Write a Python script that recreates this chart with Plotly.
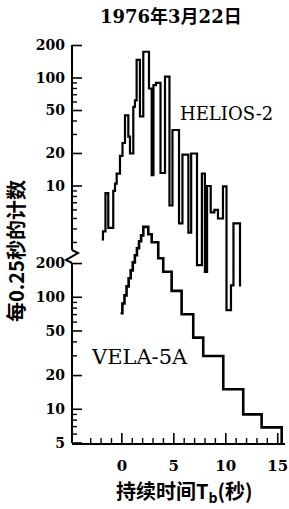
import math
import plotly.graph_objects as go

# ---------------- data ----------------
title_text = "1976年3月22日"
x_title = "持续时间T<sub>b</sub>(秒)"
y_title = "每0.25秒的计数"
helios_label = "HELIOS-2"
vela_label = "VELA-5A"

# HELIOS-2 counts per 0.25 s (left bin edges in s, counts)
helios_t = [-1.94, -1.82, -1.58, -1.31, -0.83, -0.66, -0.50, -0.18, 0.06, 0.30,
            0.62, 0.78, 1.10, 1.26, 1.42, 1.74, 2.06, 2.61, 2.87, 3.04,
            3.28, 3.72, 4.15, 4.58, 4.87, 5.50, 5.83, 6.40, 6.67, 7.23,
            7.70, 7.99, 8.20, 8.55, 8.90, 9.25, 9.73, 10.07, 10.50, 10.74,
            11.37]
helios_counts = [3.2, 3.8, 8.6, 4.1, 9.0, 10.5, 13, 19, 25, 45,
                 28.6, 20, 54, 62, 147, 44, 175, 80, 12.6, 86,
                 90, 13.2, 103, 6.6, 33, 4.5, 19.5, 3.7, 20, 1.85,
                 13, 1.6, 10, 5.7, 6, 5, 9.9, 0.71, 1.2, 4.5,
                 1.17]

# VELA-5A counts (left bin edges in s, counts)
vela_t = [-0.12, 0.05, 0.25, 0.45, 0.65, 0.85, 1.05, 1.25, 1.45, 1.65,
          1.85, 2.06, 2.54, 2.87, 3.50, 3.98, 4.79, 5.75, 6.87, 7.83,
          9.76, 11.68, 13.45, 15.38]
vela_counts = [72, 88, 104, 125, 148, 174, 205, 237, 274, 316,
               357, 425, 365, 310, 223, 169, 114, 70.5, 43.6, 29.9,
               15.1, 9.0, 6.9, 5]

x_tick_vals = [0, 5, 10, 15]
x_tick_text = ["0", "5", "10", "15"]
x_minor_vals = [v for v in range(-3, 15) if v % 5 != 0]
upper_tick_vals = [10, 20, 50, 100, 200]
upper_tick_text = ["10", "20", "50", "100", "200"]
upper_minor_vals = [3, 4, 5, 6, 7, 8, 9, 30, 40, 60, 70, 80, 90]
lower_tick_vals = [5, 10, 20, 50, 100, 200]
lower_tick_text = ["5", "10", "20", "50", "100", "200"]
lower_minor_vals = [6, 7, 8, 9, 30, 40, 60, 70, 80, 90]

# ---------------- layout geometry ----------------
W, H = 289, 509
L, R, T, B = 72, 4, 40, 66
PW, PH = W - L - R, H - T - B


def px(xs):
    """screen x pixel -> paper x"""
    return (xs - L) / PW


def py(ys):
    """screen y pixel -> paper y"""
    return (H - B - ys) / PH


serif = "DejaVu Serif, Liberation Serif, serif"
cjk = "DejaVu Serif, Noto Sans CJK SC, sans-serif"
cjk_sans = "Noto Sans CJK SC, sans-serif"

fig = go.Figure()
fig.add_trace(go.Scatter(x=helios_t, y=helios_counts, mode="lines", yaxis="y2",
                         line=dict(color="black", width=2.2, shape="hv"),
                         showlegend=False, hoverinfo="skip"))
fig.add_trace(go.Scatter(x=vela_t, y=vela_counts, mode="lines", yaxis="y",
                         line=dict(color="black", width=2.6, shape="hv"),
                         showlegend=False, hoverinfo="skip"))

tickfont = dict(family=serif, size=14, color="black", weight="bold")

fig.update_layout(
    width=W, height=H,
    margin=dict(l=L, r=R, t=T, b=B, autoexpand=False),
    paper_bgcolor="white", plot_bgcolor="white",
    xaxis=dict(range=[-4.8, 15.7], showline=True, linecolor="black", linewidth=2,
               ticks="", tickmode="array", tickvals=x_tick_vals, ticktext=x_tick_text,
               showgrid=False, zeroline=False, automargin=False, ticklabelstandoff=8,
               tickfont=dict(family=serif, size=15, color="black", weight="bold")),
    yaxis=dict(type="log", range=[math.log10(5), 4.297], showline=False,
               ticks="", tickmode="array", tickvals=lower_tick_vals, ticktext=lower_tick_text,
               showgrid=False, zeroline=False, automargin=False, ticklabelstandoff=6,
               tickfont=tickfont),
    yaxis2=dict(type="log", range=[-1.380, 2.352], overlaying="y", side="left", anchor="x",
                showline=False,
                ticks="", tickmode="array", tickvals=upper_tick_vals, ticktext=upper_tick_text,
                showgrid=False, zeroline=False, automargin=False, ticklabelstandoff=6,
                tickfont=tickfont),
)

line = dict(color="black", width=2)
tick_line = dict(color="black", width=1.6)
minor_line = dict(color="black", width=1.4)

# broken y axis line (upper part, zig-zag break, lower part)
fig.add_shape(type="line", xref="paper", yref="paper", x0=0, x1=0,
              y0=py(250), y1=py(45), line=line)
fig.add_shape(type="path", xref="paper", yref="paper",
              path=f"M 0,{py(250)} L {px(78)},{py(253)} L {px(66)},{py(260)} L 0,{py(263)}",
              line=line)
fig.add_shape(type="line", xref="paper", yref="paper", x0=0, x1=0,
              y0=0, y1=py(263), line=line)

# inside tick marks placed through the axes' own scales
for v in lower_tick_vals:
    fig.add_shape(type="line", xref="paper", yref="y", x0=0, x1=10 / PW, y0=v, y1=v, line=tick_line)
for v in lower_minor_vals:
    fig.add_shape(type="line", xref="paper", yref="y", x0=0, x1=5 / PW, y0=v, y1=v, line=minor_line)
for v in upper_tick_vals:
    fig.add_shape(type="line", xref="paper", yref="y2", x0=0, x1=10 / PW, y0=v, y1=v, line=tick_line)
for v in upper_minor_vals:
    fig.add_shape(type="line", xref="paper", yref="y2", x0=0, x1=5 / PW, y0=v, y1=v, line=minor_line)
for v in x_tick_vals:
    fig.add_shape(type="line", xref="x", yref="paper", x0=v, x1=v, y0=0, y1=10 / PH, line=tick_line)
for v in x_minor_vals:
    fig.add_shape(type="line", xref="x", yref="paper", x0=v, x1=v, y0=0, y1=5 / PH, line=minor_line)

# texts
fig.add_annotation(text=title_text, xref="paper", yref="paper", x=px(171), y=py(16),
                   showarrow=False, xanchor="center", yanchor="middle",
                   font=dict(family=cjk, size=18, color="black", weight="bold"))
fig.add_annotation(text=x_title, xref="paper", yref="paper", x=px(184), y=py(492),
                   showarrow=False, xanchor="center", yanchor="middle",
                   font=dict(family=cjk_sans, size=20, color="black", weight="bold"))
fig.add_annotation(text=y_title, xref="paper", yref="paper", x=px(16), y=py(251),
                   showarrow=False, xanchor="center", yanchor="middle", textangle=-90,
                   font=dict(family=cjk_sans, size=20, color="black", weight="bold"))
fig.add_annotation(text=helios_label, xref="paper", yref="paper", x=px(226), y=py(114),
                   showarrow=False, xanchor="center", yanchor="middle",
                   font=dict(family=serif, size=18, color="black"))
fig.add_annotation(text=vela_label, xref="paper", yref="paper", x=px(139), y=py(357),
                   showarrow=False, xanchor="center", yanchor="middle",
                   font=dict(family=serif, size=21, color="black"))

# remove the page's default body margin / scrollbars so the figure fills the window
page_fix = ("document.body.style.margin='0';"
            "document.body.style.overflow='hidden';"
            "document.documentElement.style.overflow='hidden';")

fig.write_html("out.html", post_script=page_fix, config={"displayModeBar": False})
